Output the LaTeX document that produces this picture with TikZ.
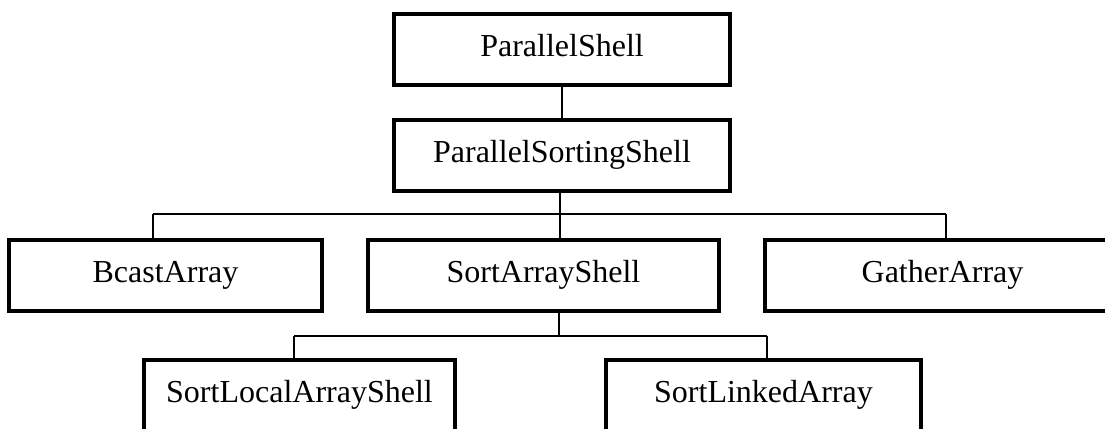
\documentclass[tikz,border=0pt]{standalone}
\usepackage{fontspec}
\setmainfont{Liberation Serif}
\begin{document}
\begin{tikzpicture}[x=0.75pt,y=-0.75pt,
  classbox/.style={draw=black, line width=3pt, rectangle, inner sep=0pt,
    minimum height=53.25pt, text height=15pt, text depth=5.25pt,
    font=\fontsize{24pt}{28pt}\selectfont},
  link/.style={draw=black, line width=1pt}]
\useasboundingbox (0,0) rectangle (1105,428);
\clip (0,0) rectangle (1105,428);
% class boxes
\node[classbox, minimum width=252pt]    (ps)   at (562,49.5)    {ParallelShell};
\node[classbox, minimum width=252pt]    (pss)  at (562,155.5)   {ParallelSortingShell};
\node[classbox, minimum width=234.75pt] (ba)   at (165.5,275.5) {BcastArray};
\node[classbox, minimum width=263.25pt] (sas)  at (543.5,275.5) {SortArrayShell};
\node[classbox, minimum width=266.25pt] (ga)   at (942.5,275.5) {GatherArray};
\node[classbox, minimum width=233.25pt] (slas) at (299.5,395.5) {SortLocalArrayShell};
\node[classbox, minimum width=236.25pt] (sla)  at (763.5,395.5) {SortLinkedArray};
% junction points of the tree lines
\coordinate (j1) at (560,214);
\coordinate (d1) at (153,214);
\coordinate (d3) at (946,214);
\coordinate (j2) at (559,336);
\coordinate (e1) at (294,336);
\coordinate (e2) at (767,336);
% connectors
\draw[link] (ps.south) -- (pss.north);
\draw[link] (pss.south -| j1) -- (j1);
\draw[link] (d1) -- (d3);
\draw[link] (d1) -- (d1 |- ba.north);
\draw[link] (j1) -- (j1 |- sas.north);
\draw[link] (d3) -- (d3 |- ga.north);
\draw[link] (sas.south -| j2) -- (j2);
\draw[link] (e1) -- (e2);
\draw[link] (e1) -- (e1 |- slas.north);
\draw[link] (e2) -- (e2 |- sla.north);
\end{tikzpicture}
\end{document}
